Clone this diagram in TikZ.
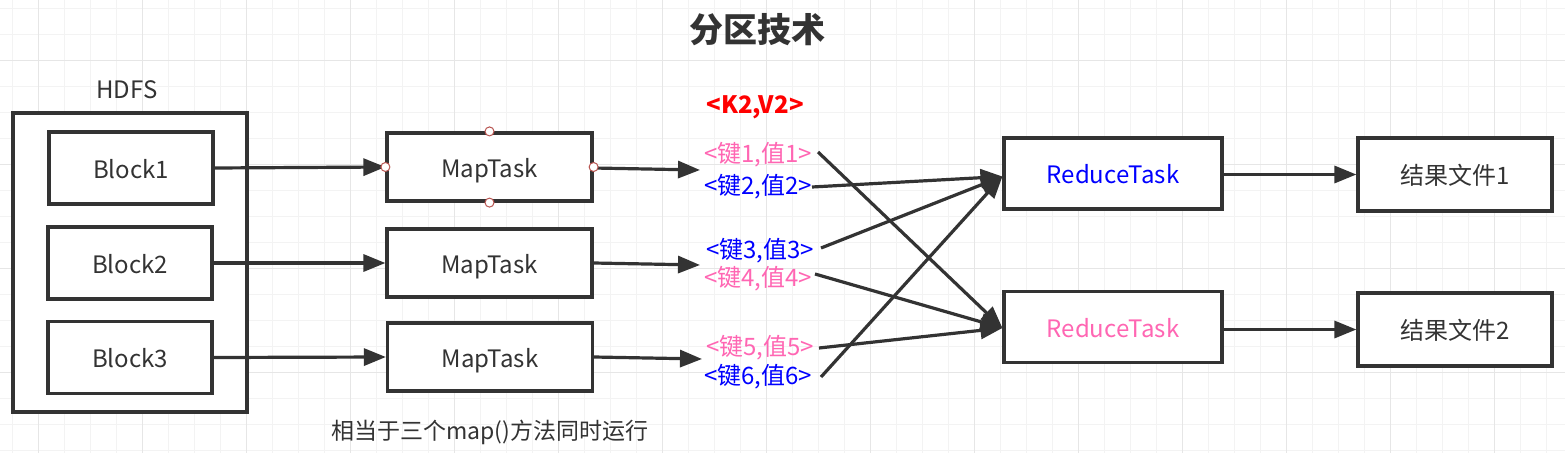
\documentclass[tikz,border=0pt]{standalone}
\usepackage{fontspec}
\setmainfont{Noto Sans CJK SC}
\usetikzlibrary{arrows.meta}
\definecolor{ink}{HTML}{333333}
\definecolor{pinkt}{HTML}{FF66B3}
\definecolor{bluet}{HTML}{0000FF}
\definecolor{redt}{HTML}{FF0000}
\definecolor{gridminor}{HTML}{F3F3F3}
\definecolor{gridmajor}{HTML}{E6E6E6}
\definecolor{handlered}{HTML}{B85450}
\tikzset{
  box/.style={draw=ink,line width=3.2pt,fill=white,inner sep=0pt,
    text height=22pt,text depth=2pt,
    font=\fontsize{24}{28}\selectfont,text=ink},
  arr/.style={draw=ink,line width=3.2pt,-{Triangle[length=22pt,width=17pt]}},
  lbl/.style={inner sep=0pt,font=\fontsize{24}{28}\selectfont},
  handle/.style={circle,draw=handlered,fill=white,line width=1pt,
    minimum size=9pt,inner sep=0pt},
  gminor/.style={draw=gridminor,line width=1pt},
  gmajor/.style={draw=gridmajor,line width=1pt}
}
\begin{document}
\begin{tikzpicture}[x=1pt,y=-1pt]
\useasboundingbox[fill=white] (0,0) rectangle (1565,453);
% grid
\foreach \x in {12,38,...,1565} \draw[gminor] (\x,0) -- (\x,453);
\foreach \y in {8,34,...,453} \draw[gminor] (0,\y) -- (1565,\y);
\foreach \x in {38,142,...,1565} \draw[gmajor] (\x,0) -- (\x,453);
\foreach \y in {60,164,...,453} \draw[gmajor] (0,\y) -- (1565,\y);

% title
\node[lbl,font=\fontsize{34}{40}\selectfont\bfseries,text=ink] (title) at (757,30) {分区技术};

% HDFS
\node[lbl,text=ink] (hdfslbl) at (127,90) {HDFS};
\node[box,minimum width=234pt,minimum height=299pt] (hdfs) at (130,262.5) {};
\node[box,minimum width=164pt,minimum height=72pt] (b1) at (131,168) {Block1};
\node[box,minimum width=164pt,minimum height=72pt] (b2) at (130,263) {Block2};
\node[box,minimum width=164pt,minimum height=72pt] (b3) at (130,357.5) {Block3};

% MapTasks
\node[box,minimum width=205pt,minimum height=68pt] (m1) at (489.5,167) {MapTask};
\node[box,minimum width=205pt,minimum height=68pt] (m2) at (489.5,263) {MapTask};
\node[box,minimum width=205pt,minimum height=68pt] (m3) at (490,357) {MapTask};

% ReduceTasks
\node[box,minimum width=218pt,minimum height=71pt,text=bluet] (r1) at (1113,173.5) {ReduceTask};
\node[box,minimum width=218pt,minimum height=71pt,text=pinkt] (r2) at (1113,327) {ReduceTask};

% result files
\node[box,minimum width=194pt,minimum height=73pt] (f1) at (1455,174.5) {结果文件1};
\node[box,minimum width=194pt,minimum height=73pt] (f2) at (1455,329.5) {结果文件2};

% key/value labels
\node[lbl,font=\fontsize{24}{28}\selectfont\bfseries,text=redt] (kv) at (755,107) {<K2,V2>};
\node[lbl,text=pinkt] (k1) at (758,155) {<键1,值1>};
\node[lbl,text=bluet] (k2) at (758,187) {<键2,值2>};
\node[lbl,text=bluet] (k3) at (760,251) {<键3,值3>};
\node[lbl,text=pinkt] (k4) at (758,279) {<键4,值4>};
\node[lbl,text=pinkt] (k5) at (760,348) {<键5,值5>};
\node[lbl,text=bluet] (k6) at (758,377) {<键6,值6>};

% bottom note
\node[lbl,text=ink,font=\fontsize{23}{28}\selectfont] (note) at (490,432) {相当于三个map()方法同时运行};

% connector coordinates
\coordinate (t1) at (700,170);
\coordinate (t2) at (700,265);
\coordinate (t3) at (702,359);
\coordinate (s1) at (818,152);
\coordinate (s2) at (812,187);
\coordinate (s3) at (821,248);
\coordinate (s4) at (815,274);
\coordinate (s5) at (819,348);
\coordinate (s6) at (821,377);
\coordinate (e1) at ([yshift=-3pt]r1.west);
\coordinate (e2) at ([yshift=-1pt]r2.west);

% arrows
\draw[arr] (b1.east) -- (m1.west);
\draw[arr] (b2.east) -- (m2.west);
\draw[arr] (b3.east) -- (m3.west);
\draw[arr] ([yshift=-1pt]m1.east) -- (t1);
\draw[arr] (m2.east) -- (t2);
\draw[arr] (m3.east) -- (t3);
\draw[arr] (s1) -- (e2);
\draw[arr] (s2) -- (e1);
\draw[arr] (s3) -- (e1);
\draw[arr] (s4) -- (e2);
\draw[arr] (s5) -- (e2);
\draw[arr] (s6) -- (e1);
\draw[arr] (r1.east |- f1.west) -- (f1.west);
\draw[arr] (r2.east |- f2.west) -- (f2.west);

% selection handles on first MapTask
\node[handle] (h1) at (m1.west) {};
\node[handle] (h2) at (m1.east) {};
\node[handle] (h3) at (m1.north) {};
\node[handle] (h4) at (m1.south) {};
\end{tikzpicture}
\end{document}
